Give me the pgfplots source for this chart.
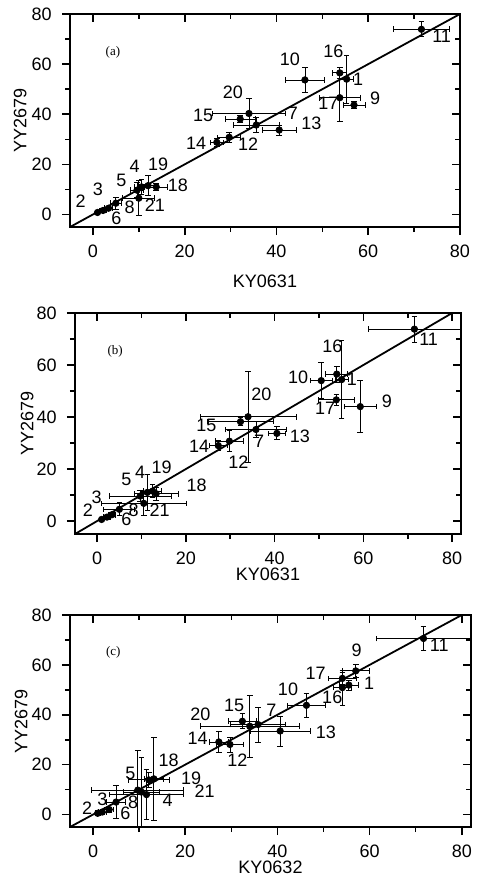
\documentclass[border=0pt]{standalone}
\usepackage{fontspec}
\setmainfont{Liberation Sans}
\newfontfamily\serifpanel{Liberation Serif}
\usepackage{pgfplots}
\usepackage{pgfplotstable}
\pgfplotsset{compat=1.18}

\newcommand\txt{\fontsize{9pt}{10pt}\selectfont}

% x y = sample position, ex ey = half error, lx ly = where the number sits
\pgfplotstableread{
x y ex ey lx ly lab
55.3 54.0 1.5 9.5 57.8 53.9 1
1.0 0.8 0.5 0.5 -2.7 5.3 2
2.2 1.6 0.8 0.8 1.1 10.0 3
10.6 11.0 1.5 3.0 9.1 19.3 4
9.6 9.7 1.5 3.0 6.2 13.7 5
3.4 2.5 0.8 0.8 5.1 -1.6 6
35.6 35.7 5.0 3.0 43.6 40.3 7
5.0 4.5 1.2 2.5 8.0 3.0 8
56.9 43.7 2.4 1.5 61.5 46.3 9
46.2 53.7 4.2 5.0 42.9 61.9 10
71.6 73.9 6.2 3.0 76.0 71.0 11
29.7 30.8 2.5 2.0 33.8 28.1 12
40.6 33.7 3.7 2.0 47.6 36.4 13
27.0 28.8 1.5 1.5 22.5 28.4 14
32.1 38.1 3.3 1.5 24.0 39.7 15
53.8 56.5 1.5 2.0 52.4 65.0 16
53.8 46.6 4.4 9.5 51.3 44.3 17
13.8 11.0 2.5 1.5 18.5 11.7 18
12.0 11.5 2.0 4.0 14.2 20.1 19
34.0 40.3 8.0 6.0 30.5 48.6 20
10.0 6.5 3.5 7.0 13.5 3.7 21
}\dataA

\pgfplotstableread{
x y ex ey lx ly lab
55.1 54.4 1.5 14.9 57.4 54.5 1
1.0 0.6 0.5 0.5 -2.1 4.1 2
2.2 1.5 0.8 0.8 -0.1 9.0 3
11.3 11.0 1.5 7.0 9.7 18.9 4
9.7 9.6 7.0 2.0 6.6 16.0 5
3.3 2.4 0.8 0.8 6.6 0.5 6
35.8 35.2 6.8 3.0 36.5 30.5 7
5.0 4.5 3.5 2.5 8.2 4.1 8
59.3 44.0 3.6 10.0 65.3 46.0 9
50.5 54.0 2.5 7.0 45.3 55.3 10
71.5 73.8 10.3 5.0 74.7 70.0 11
29.8 30.7 3.2 4.0 31.8 22.8 12
40.5 33.7 2.0 2.5 45.7 32.4 13
27.3 29.0 2.0 2.0 23.0 28.6 14
32.3 38.2 7.5 1.5 24.6 36.9 15
54.0 56.5 2.5 3.0 53.0 67.1 16
53.9 46.6 4.0 2.0 51.4 43.3 17
13.3 10.5 5.0 2.5 22.4 13.8 18
12.5 11.5 2.0 2.5 14.5 20.8 19
34.0 40.1 10.8 17.6 37.0 48.9 20
10.5 6.8 9.5 4.5 14.1 4.1 21
}\dataB

\pgfplotstableread{
x y ex ey lx ly lab
55.5 51.9 2.0 2.0 59.9 52.5 1
1.0 0.5 0.5 0.5 -1.3 2.7 2
2.0 1.0 0.8 0.8 2.0 6.3 3
11.6 8.0 8.0 10.0 16.2 5.6 4
9.7 9.8 10.0 16.0 8.1 16.3 5
3.5 2.0 1.0 1.0 7.0 0.5 6
35.8 36.1 6.0 7.0 38.7 41.8 7
5.0 5.0 2.0 6.5 8.7 4.9 8
57.0 57.6 3.0 2.5 57.2 66.0 9
46.3 43.8 4.2 4.8 42.3 50.1 10
71.7 70.6 10.2 4.8 75.1 68.0 11
29.7 28.1 3.0 3.0 31.3 21.7 12
40.6 33.5 6.5 6.0 50.5 33.1 13
27.3 29.1 2.0 4.3 22.7 30.7 14
32.4 37.4 3.0 3.0 30.6 43.8 15
54.1 50.9 2.0 7.0 51.9 47.2 16
54.1 54.6 3.0 2.5 48.3 56.6 17
13.2 14.3 2.0 16.5 16.4 21.7 18
12.1 13.9 4.5 3.0 21.3 14.6 19
34.0 35.4 10.8 12.5 23.3 40.2 20
10.5 9.0 4.0 14.0 24.2 9.5 21
}\dataC

\pgfplotsset{
  base/.style={
    scale only axis, xmin=-5, ymin=-5, ymax=80,
    xtick={0,20,...,80}, ytick={0,20,...,80},
    minor x tick num=1, minor y tick num=1,
    major tick length=4pt, minor tick length=2.5pt,
    axis line style={line width=0.9pt},
    every tick/.style={black, line width=0.8pt},
  },
  front/.style={
    base, xtick pos=left, ytick pos=left, tick align=outside,
    /pgf/number format/assume math mode=true,
    ticklabel style={font=\txt},
    xticklabel style={anchor=center, yshift=-8pt},
    yticklabel style={anchor=east, inner sep=0pt, xshift=-5pt},
    label style={font=\txt, inner sep=0pt, anchor=center},
  },
  back/.style={
    base, xtick pos=right, ytick pos=right, tick align=inside,
    xticklabels={}, yticklabels={},
  },
  pts/.style={only marks, mark=*, mark size=1.6pt, black,
    error bars/.cd, x dir=both, x explicit, y dir=both, y explicit,
    error bar style={line width=0.4pt, black},
    error mark options={rotate=90, black, line width=0.4pt, mark size=1.4pt}},
  nums/.style={only marks, mark=none, nodes near coords,
    point meta=explicit symbolic,
    nodes near coords style={anchor=center, inner sep=0pt, font=\txt}},
}

\begin{document}
\begin{tikzpicture}
\useasboundingbox (0,0) rectangle (239pt,-439.5pt);

% (a)
\begin{axis}[back, at={(35pt,-113.5pt)}, anchor=south west,
  width=195pt, height=106.5pt, xmax=80]
\end{axis}
\begin{axis}[front, at={(35pt,-113.5pt)}, anchor=south west,
  width=195pt, height=106.5pt, xmax=80,
  xlabel={KY0631}, ylabel={YY2679},
  xlabel style={at={(axis description cs:0.5,-0.254)}},
  ylabel style={at={(axis description cs:-0.128,0.5)}}]
  \addplot[black, line width=0.9pt] coordinates {(-5,-5) (80,80)};
  \addplot[pts] table[x=x, y=y, x error=ex, y error=ey] {\dataA};
  \addplot[nums] table[x=lx, y=ly, meta=lab] {\dataA};
  \node[font=\serifpanel\fontsize{6.5pt}{7pt}\selectfont] at (axis description cs:0.11,0.818) {(a)};
\end{axis}

% (b)
\begin{axis}[back, at={(37.5pt,-267pt)}, anchor=south west,
  width=193pt, height=110.5pt, xmax=82]
\end{axis}
\begin{axis}[front, at={(37.5pt,-267pt)}, anchor=south west,
  width=193pt, height=110.5pt, xmax=82,
  xlabel={KY0631}, ylabel={YY2679},
  xlabel style={at={(axis description cs:0.5,-0.181)}},
  ylabel style={at={(axis description cs:-0.124,0.5)}}]
  \addplot[black, line width=0.9pt] coordinates {(-5,-5) (80,80)};
  \addplot[pts] table[x=x, y=y, x error=ex, y error=ey] {\dataB};
  \addplot[nums] table[x=lx, y=ly, meta=lab] {\dataB};
  \node[font=\serifpanel\fontsize{6.5pt}{7pt}\selectfont] at (axis description cs:0.104,0.825) {(b)};
\end{axis}

% (c)
\begin{axis}[back, at={(35pt,-413.5pt)}, anchor=south west,
  width=200.5pt, height=106pt, xmax=82]
\end{axis}
\begin{axis}[front, at={(35pt,-413.5pt)}, anchor=south west,
  width=200.5pt, height=106pt, xmax=82,
  xlabel={KY0632}, ylabel={YY2679},
  xlabel style={at={(axis description cs:0.5,-0.188)}},
  ylabel style={at={(axis description cs:-0.122,0.5)}}]
  \addplot[black, line width=0.9pt] coordinates {(-5,-5) (80,80)};
  \addplot[pts] table[x=x, y=y, x error=ex, y error=ey] {\dataC};
  \addplot[nums] table[x=lx, y=ly, meta=lab] {\dataC};
  \node[font=\serifpanel\fontsize{6.5pt}{7pt}\selectfont] at (axis description cs:0.108,0.822) {(c)};
\end{axis}
\end{tikzpicture}
\end{document}
